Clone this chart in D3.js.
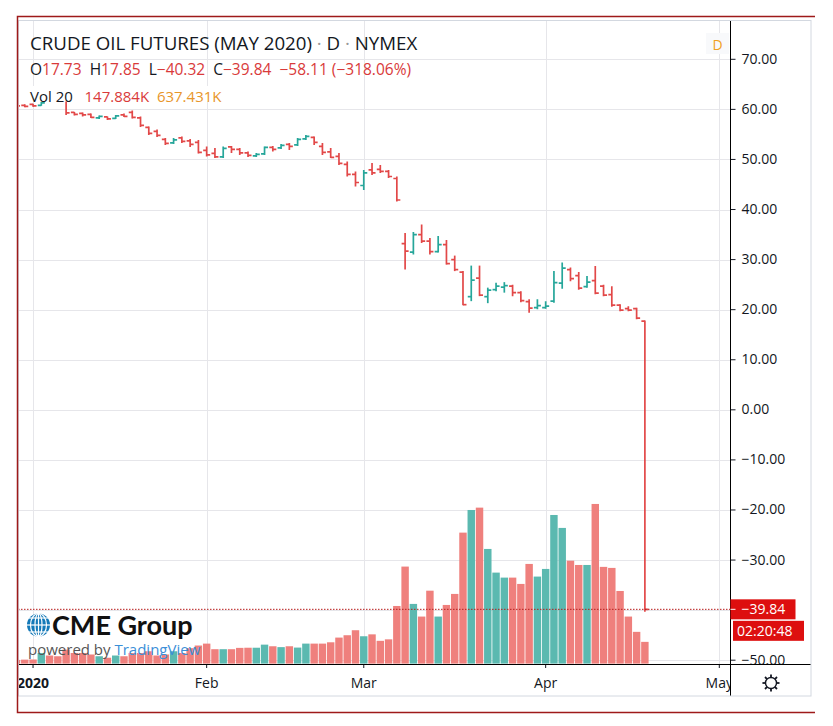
<!DOCTYPE html>
<html>
<head>
<meta charset="utf-8">
<script src="https://d3js.org/d3.v7.min.js"></script>
<style>
body { margin: 0; background: #fff; }
svg { display: block; font-family: "Open Sans", sans-serif; }
</style>
</head>
<body>
<svg id="chart" width="833" height="726"></svg>
<script>
// trading days of the CLK20 contract shown on the chart
var dates = ["2019-12-30","2019-12-31","2020-01-02","2020-01-03","2020-01-06","2020-01-07","2020-01-08","2020-01-09","2020-01-10","2020-01-13","2020-01-14","2020-01-15","2020-01-16","2020-01-17","2020-01-21","2020-01-22","2020-01-23","2020-01-24","2020-01-27","2020-01-28","2020-01-29","2020-01-30","2020-01-31",
  "2020-02-03","2020-02-04","2020-02-05","2020-02-06","2020-02-07","2020-02-10","2020-02-11","2020-02-12","2020-02-13","2020-02-14","2020-02-18","2020-02-19","2020-02-20","2020-02-21","2020-02-24","2020-02-25","2020-02-26","2020-02-27","2020-02-28",
  "2020-03-02","2020-03-03","2020-03-04","2020-03-05","2020-03-06","2020-03-09","2020-03-10","2020-03-11","2020-03-12","2020-03-13","2020-03-16","2020-03-17","2020-03-18","2020-03-19","2020-03-20","2020-03-23","2020-03-24","2020-03-25","2020-03-26","2020-03-27","2020-03-30","2020-03-31",
  "2020-04-01","2020-04-02","2020-04-03","2020-04-06","2020-04-07","2020-04-08","2020-04-09","2020-04-13","2020-04-14","2020-04-15","2020-04-16","2020-04-17","2020-04-20"];
// empty slots to the right of the last bar
var futureDates = ["2020-04-21","2020-04-22","2020-04-23","2020-04-24","2020-04-27","2020-04-28","2020-04-29","2020-04-30","2020-05-01"];

var opens = [60.9,60.8,61.0,60.8,62.5,62.2,62.3,59.4,59.2,59.0,58.3,58.5,58.2,58.9,59.4,58.3,56.4,55.6,54.0,53.3,54.3,53.7,53.4,
  51.8,51.2,50.5,52.5,52.0,51.3,50.7,51.1,52.4,52.3,53.0,52.9,54.1,54.4,52.6,51.5,50.6,49.0,47.0,
  44.8,47.9,48.0,47.6,46.2,33.2,31.5,35.0,33.7,31.6,33.0,30.0,27.5,22.6,26.3,22.6,24.0,24.5,24.7,23.4,21.6,20.4,
  20.4,21.7,25.3,28.0,26.8,24.6,25.8,24.7,23.0,20.9,20.2,20.2,17.73];
var highs = [61.0,61.0,61.1,61.5,62.9,62.6,62.8,59.5,59.4,59.2,58.8,58.6,58.9,59.2,59.8,58.6,56.6,56.0,54.3,54.3,54.6,54.1,53.9,
  52.6,52.3,52.6,52.7,52.3,51.6,51.3,52.6,52.7,53.1,53.3,54.3,54.9,54.6,53.3,52.3,51.3,49.6,47.6,
  47.9,49.3,48.9,47.9,46.6,35.3,35.5,37.0,34.3,34.7,33.9,30.8,27.7,28.8,28.8,24.4,25.4,25.5,25.0,23.7,22.1,22.1,
  21.7,27.7,29.4,28.4,27.5,26.7,28.7,25.0,24.7,21.1,20.7,20.4,17.85];
var lows = [60.5,60.4,60.5,60.7,61.8,61.8,58.9,58.8,58.6,58.3,58.1,57.9,58.1,58.5,58.2,56.5,54.9,54.5,52.9,53.1,53.3,52.5,51.2,
  50.6,50.3,50.3,51.3,50.9,50.5,50.5,50.9,51.6,52.1,51.9,52.7,53.9,52.9,50.9,50.3,48.9,46.6,44.6,
  43.9,46.9,47.3,46.3,41.6,28.0,31.0,33.3,31.0,31.4,29.0,27.7,20.9,21.7,22.7,21.3,23.7,23.4,22.7,21.5,19.4,20.1,
  20.2,21.4,24.2,25.7,24.0,24.4,23.1,22.7,20.6,19.7,19.7,18.1,-40.32];
var closes = [60.7,60.6,60.7,61.3,62.1,61.9,59.3,59.0,58.9,58.4,58.6,58.1,58.7,58.6,58.4,56.8,55.2,54.8,53.2,53.9,53.6,53.0,51.4,
  50.9,50.5,52.2,52.0,51.3,50.8,51.0,52.4,52.0,52.8,52.6,54.0,54.6,53.4,51.4,50.4,49.2,47.0,45.4,
  47.3,47.3,47.6,46.6,41.9,31.7,35.0,33.7,31.6,33.0,29.2,28.0,21.0,25.9,22.9,23.9,24.7,24.8,23.4,21.8,20.3,20.8,
  20.7,25.4,28.3,26.2,24.3,25.5,23.3,22.9,20.9,19.9,19.9,18.3,-39.84];
// volume in thousands of contracts
var volumes = [25,27,28,72,55,50,95,72,72,62,50,40,55,50,72,72,84,55,62,84,72,105,123,
  136,98,98,98,107,108,108,129,118,112,118,109,136,136,136,145,177,193,227,
  186,199,155,165,392,660,406,320,496,320,399,474,891,1045,1061,780,619,585,585,542,678,592,
  644,1011,923,700,671,671,1086,658,651,494,320,216,147.884];

var monthTicks = ["2020-01-02","2020-02-03","2020-03-02","2020-04-01","2020-05-01"];
var monthLabels = ["2020","Feb","Mar","Apr","May"];
var priceTicks = [70,60,50,40,30,20,10,0,-10,-20,-30,-40,-50];

var titleParts = ["CRUDE OIL FUTURES (MAY 2020)", "D", "NYMEX"];
var ohlcLegend = [["O","17.73"],["H","17.85"],["L","\u221240.32"],["C","\u221239.84"]];
var changeText = "\u221258.11 (\u2212318.06%)";
var volLegend = ["Vol 20", "147.884K", "637.431K"];
var lastPrice = -39.84;
var countdown = "02:20:48";

var upColor = "#26a69a", downColor = "#e24848";
var upVol = "#5bb9b0", downVol = "#ef807d";
var textColor = "#131722", gridColor = "#e6e6ea";

var plotL = 18, plotR = 730.5, plotT = 21, plotB = 664;

var bars = dates.map(function(d, i) {
  return { date: d, o: opens[i], h: highs[i], l: lows[i], c: closes[i], v: volumes[i] };
});

var x = d3.scalePoint().domain(dates.concat(futureDates)).range([16.5, 719.3]);
var y = d3.scaleLinear().domain([-50, 70]).range([660.2, 59.3]);
var yv = d3.scaleLinear().domain([0, 1000]).range([663.6, 516.6]);
var barW = x.step() * 0.9;

var svg = d3.select("#chart");
svg.append("rect").attr("width", 833).attr("height", 726).attr("fill", "#fff");

var defs = svg.append("defs");
defs.append("clipPath").attr("id", "plotClip").append("rect")
  .attr("x", plotL).attr("y", plotT).attr("width", plotR - plotL).attr("height", plotB - plotT);
defs.append("clipPath").attr("id", "timeClip").append("rect")
  .attr("x", plotL).attr("y", plotB).attr("width", plotR - plotL).attr("height", 32);
defs.append("clipPath").attr("id", "priceClip").append("rect")
  .attr("x", plotR).attr("y", plotT).attr("width", 81).attr("height", plotB - plotT);

// grid
var plot = svg.append("g").attr("clip-path", "url(#plotClip)");
plot.selectAll(".hgrid").data(priceTicks).enter().append("line")
  .attr("x1", plotL).attr("x2", plotR)
  .attr("y1", function(d) { return Math.round(y(d)) + 0.5; })
  .attr("y2", function(d) { return Math.round(y(d)) + 0.5; })
  .attr("stroke", gridColor);
plot.selectAll(".vgrid").data(monthTicks).enter().append("line")
  .attr("x1", function(d) { return Math.round(x(d)) + 0.5; })
  .attr("x2", function(d) { return Math.round(x(d)) + 0.5; })
  .attr("y1", plotT).attr("y2", plotB)
  .attr("stroke", gridColor);

// volume
plot.selectAll(".vol").data(bars).enter().append("rect")
  .attr("x", function(d) { return x(d.date) - barW / 2; })
  .attr("width", barW)
  .attr("y", function(d) { return yv(d.v); })
  .attr("height", function(d) { return yv(0) - yv(d.v); })
  .attr("fill", function(d) { return d.c >= d.o ? upVol : downVol; });

// CME / TradingView watermark
var wm = plot.append("g");
var globe = wm.append("g").attr("transform", "translate(38.5,625)");
globe.append("circle").attr("r", 11.5).attr("fill", "#1479b8");
[-7, 0, 7].forEach(function(dy) {
  globe.append("line").attr("x1", -12).attr("x2", 12).attr("y1", dy).attr("y2", dy)
    .attr("stroke", "#fff").attr("stroke-width", 1.2);
});
[3.5, 8].forEach(function(rx) {
  globe.append("ellipse").attr("rx", rx).attr("ry", 11.5).attr("fill", "none")
    .attr("stroke", "#fff").attr("stroke-width", 1.2);
});
globe.append("line").attr("y1", -11.5).attr("y2", 11.5).attr("stroke", "#fff").attr("stroke-width", 1.2);
wm.append("text").attr("x", 52).attr("y", 635)
  .style("font-family", "Lato").style("font-weight", 700).style("font-size", "27px")
  .attr("fill", "#111").text("CME Group");
var pw = wm.append("text").attr("x", 28).attr("y", 655).style("font-size", "15px");
pw.append("tspan").attr("fill", "#555").text("powered by ");
pw.append("tspan").attr("fill", "#3b8fd8").text("TradingView");

// OHLC bars
var ohlc = plot.selectAll(".bar").data(bars).enter().append("g")
  .attr("stroke", function(d) { return d.c >= d.o ? upColor : downColor; })
  .attr("stroke-width", 1.7);
ohlc.append("line")
  .attr("x1", function(d) { return x(d.date); }).attr("x2", function(d) { return x(d.date); })
  .attr("y1", function(d) { return y(d.h); }).attr("y2", function(d) { return y(d.l); });
ohlc.append("line")
  .attr("x1", function(d) { return x(d.date) - 3.5; }).attr("x2", function(d) { return x(d.date); })
  .attr("y1", function(d) { return y(d.o); }).attr("y2", function(d) { return y(d.o); });
ohlc.append("line")
  .attr("x1", function(d) { return x(d.date); }).attr("x2", function(d) { return x(d.date) + 3.5; })
  .attr("y1", function(d) { return y(d.c); }).attr("y2", function(d) { return y(d.c); });

// last price line
plot.append("line").attr("x1", plotL).attr("x2", plotR)
  .attr("y1", y(lastPrice)).attr("y2", y(lastPrice))
  .attr("stroke", "#b71c1c").attr("stroke-dasharray", "1.5,1.5");

// legend
svg.append("rect").attr("x", 26).attr("y", 86).attr("width", 204).attr("height", 15.5).attr("fill", "#fff");
var t1 = svg.append("text").attr("x", 30).attr("y", 50).style("font-size", "18.7px").attr("fill", textColor);
t1.append("tspan").text(titleParts[0]);
t1.append("tspan").attr("fill", "#999").text(" \u00b7 ");
t1.append("tspan").text(titleParts[1]);
t1.append("tspan").attr("fill", "#999").text(" \u00b7 ");
t1.append("tspan").text(titleParts[2]);

var t2 = svg.append("text").attr("x", 30).attr("y", 75).style("font-size", "15.5px").attr("fill", textColor);
ohlcLegend.forEach(function(p, i) {
  t2.append("tspan").text((i ? "  " : "") + p[0]).attr("xml:space", "preserve");
  t2.append("tspan").attr("fill", "#d93a3a").text(p[1]);
});
t2.append("tspan").attr("fill", "#d93a3a").text("  " + changeText);
t2.attr("xml:space", "preserve");

var t3 = svg.append("text").attr("x", 30).attr("y", 102).style("font-size", "15px")
  .attr("xml:space", "preserve").attr("fill", textColor);
t3.append("tspan").text(volLegend[0]);
t3.append("tspan").attr("fill", "#d93a3a").text("   " + volLegend[1]);
t3.append("tspan").attr("fill", "#e8962a").text("  " + volLegend[2]);

svg.append("rect").attr("x", 706).attr("y", 33).attr("width", 23).attr("height", 21).attr("fill", "#f8f9fb");
svg.append("text").attr("x", 717.5).attr("y", 50).attr("text-anchor", "middle")
  .style("font-size", "14px").attr("fill", "#f0a020").text(titleParts[1]);

// price axis
var yAxis = d3.axisRight(y).tickValues(priceTicks).tickSize(5).tickPadding(6)
  .tickFormat(d3.format(".2f"));
var ya = svg.append("g").attr("clip-path", "url(#priceClip)").call(yAxis);
ya.select(".domain").remove();
ya.selectAll("text").style("font-size", "14px").style("font-family", "Open Sans").attr("fill", textColor);
ya.selectAll("line").attr("stroke", textColor);
ya.selectAll(".tick").attr("transform", function(d) { return "translate(" + plotR + "," + y(d) + ")"; });

// time axis
var xAxis = d3.axisBottom(x).tickValues(monthTicks).tickSize(4).tickPadding(10)
  .tickFormat(function(d, i) { return monthLabels[i]; });
var xa = svg.append("g").attr("clip-path", "url(#timeClip)").call(xAxis);
xa.selectAll(".tick").attr("transform", function(d) { return "translate(" + x(d) + "," + plotB + ")"; });
xa.select(".domain").remove();
xa.selectAll("text").style("font-size", "14px").style("font-family", "Open Sans").attr("fill", textColor)
  .style("font-weight", function(d, i) { return i === 0 ? 700 : 400; });
xa.selectAll("line").attr("stroke", textColor);

// axis lines and widget border
svg.append("line").attr("x1", plotL).attr("x2", 811).attr("y1", plotB + 0.5).attr("y2", plotB + 0.5).attr("stroke", "#000");
svg.append("line").attr("x1", plotR).attr("x2", plotR).attr("y1", plotT).attr("y2", 696).attr("stroke", "#000");
svg.append("rect").attr("x", 18.5).attr("y", 20.5).attr("width", 792.5).attr("height", 675.5)
  .attr("fill", "none").attr("stroke", "#d3d8e0");
svg.append("path").attr("d", "M815,16.5H17.5V712.5H815").attr("fill", "none")
  .attr("stroke", "#9e1a1a").attr("stroke-width", 1.5);

// last price label and countdown
var ly = y(lastPrice);
svg.append("rect").attr("x", plotR).attr("y", ly - 10).attr("width", 65).attr("height", 20).attr("fill", "#dd0f0f");
svg.append("line").attr("x1", plotR).attr("x2", plotR + 5).attr("y1", ly).attr("y2", ly).attr("stroke", "#fff");
svg.append("text").attr("x", 741.5).attr("y", ly).attr("dy", "0.35em").style("font-size", "14px")
  .attr("fill", "#fff").text(d3.format(".2f")(lastPrice));
svg.append("rect").attr("x", 733).attr("y", ly + 11.5).attr("width", 71).attr("height", 20).attr("fill", "#dd0f0f");
svg.append("text").attr("x", 737).attr("y", ly + 21.5).attr("dy", "0.35em").style("font-size", "14px")
  .attr("fill", "#fff").text(countdown);

// settings gear
var gear = svg.append("g").attr("transform", "translate(771,683)").attr("stroke", textColor).attr("fill", "none");
gear.append("circle").attr("r", 5.5).attr("stroke-width", 1.4);
d3.range(8).forEach(function(k) {
  var a = k * Math.PI / 4;
  gear.append("line").attr("x1", Math.cos(a) * 5.5).attr("y1", Math.sin(a) * 5.5)
    .attr("x2", Math.cos(a) * 8.5).attr("y2", Math.sin(a) * 8.5).attr("stroke-width", 1.8);
});
</script>
</body>
</html>
